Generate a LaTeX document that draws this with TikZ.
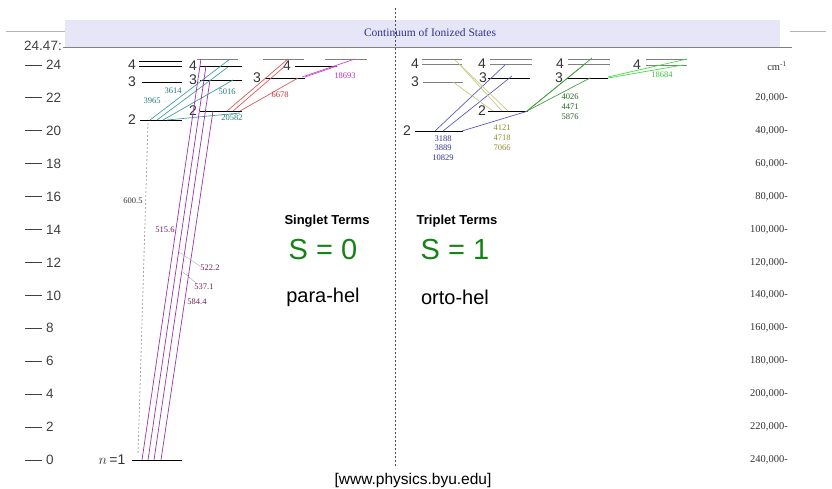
\documentclass[tikz,border=0pt]{standalone}
\usepackage{fontspec}
\setmainfont{Liberation Sans}
\newfontfamily\timesfont{Liberation Serif}
\definecolor{hdrfill}{RGB}{230,230,248}
\definecolor{hdrtext}{RGB}{50,50,140}
\definecolor{tealline}{RGB}{70,160,160}
\definecolor{tealtext}{RGB}{40,120,120}
\definecolor{redline}{RGB}{220,90,90}
\definecolor{redtext}{RGB}{190,50,50}
\definecolor{magline}{RGB}{210,70,210}
\definecolor{magtext}{RGB}{180,50,180}
\definecolor{purpline}{RGB}{150,50,170}
\definecolor{purptext}{RGB}{110,30,90}
\definecolor{blueline}{RGB}{90,90,190}
\definecolor{bluetext}{RGB}{50,50,140}
\definecolor{oliveline}{RGB}{200,200,130}
\definecolor{olivetext}{RGB}{140,140,50}
\definecolor{greenline}{RGB}{70,160,70}
\definecolor{greentext}{RGB}{40,100,40}
\definecolor{limeline}{RGB}{70,220,70}
\definecolor{limetext}{RGB}{60,190,60}
\definecolor{spin}{RGB}{20,130,20}
\begin{document}
\begin{tikzpicture}
		[	x=1pt,y=-1pt,
		lvl/.style={draw=black,line width=0.9pt},
		lim/.style={draw=gray,line width=0.9pt},
		lvnum/.style={font=\fontsize{14}{14}\selectfont,text=black!80,inner sep=0pt},
		axnum/.style={font=\fontsize{13.5}{14}\selectfont,text=black!75,inner sep=0pt},
		cmnum/.style={font=\timesfont\fontsize{10.5}{11}\selectfont,text=black!80,inner sep=0pt,anchor=east},
		wl/.style={font=\timesfont\fontsize{8.5}{9}\selectfont,inner sep=0pt},
		trans/.style={line width=0.7pt},
		lead/.style={draw=gray!70,line width=0.4pt}
		]
\useasboundingbox (0,0) rectangle (832,488);
% header
\fill[hdrfill] (65,20) rectangle (780,47);
\draw[gray,line width=1pt] (63,47) -- (792,47);
\draw[gray!60,line width=0.5pt] (6,31) -- (65,31);
\draw[gray!60,line width=0.5pt] (790,31) -- (826,31);
\node[font=\timesfont\fontsize{11.5}{12}\selectfont,text=hdrtext] (cont) at (430,33){Continuum of Ionized States};
\draw[black!70,line width=0.8pt,dash pattern=on 2pt off 2pt] (395,8) -- (395,466);
\node[axnum] (lim) at (43,46){24.47:};
% eV axis
\foreach \e in {0,2,...,24}{
  \draw[black!75,line width=0.8pt] (25,460-16.46*\e) -- (42,460-16.46*\e);
  \node[axnum,anchor=west] (ev\e) at (46,460-16.46*\e){\e};
}
% cm-1 axis
\node[font=\timesfont\fontsize{10.5}{11}\selectfont,text=black!80] (cm) at (777,66){cm\textsuperscript{-1}};
\foreach \k in {1,...,12}{
  \pgfmathtruncatemacro{\v}{20*\k}
  \node[cmnum] (cm\k) at (788,65+32.9*\k){\v,000-};
}

% singlet levels
\draw[lvl] (139,61) -- (182,61);
\draw[lvl] (139,66) -- (182,66);
\draw[lvl] (142,82) -- (182,82);
\draw[lvl] (140,120) -- (182,120);
\draw[lvl] (132,460) -- (182,460);
\node[lvnum] (s4) at (132,65){4};
\node[lvnum] (s3) at (132,82){3};
\node[lvnum] (s2) at (132,120){2};
\node[lvnum] (s1) at (112,460){$n$\,=1};
\draw[lim] (197,59) -- (238,59);
\draw[lvl] (200,66) -- (242,66);
\draw[lvl] (200,80) -- (242,80);
\draw[lvl] (200,111) -- (242,111);
\node[lvnum] (p4) at (193,66){4};
\node[lvnum] (p3) at (193,80){3};
\node[lvnum] (p2) at (193,111){2};
\draw[lim] (263,59) -- (304,59);
\draw[lvl] (295,66) -- (337,66);
\draw[lvl] (265,78) -- (305,78);
\node[lvnum] (d4) at (287,66){4};
\node[lvnum] (d3) at (257,78){3};
\draw[lim] (325,59) -- (367,59);

% singlet transitions
\draw[trans,draw=tealline] (150,120) -- (230,59);
\draw[trans,draw=tealline] (157,120) -- (228,67);
\draw[trans,draw=tealline] (163,120) -- (233,80);
\draw[trans,draw=tealline] (167,120) -- (240,113);
\draw[trans,draw=redline] (227,111) -- (288,59);
\draw[trans,draw=redline] (233,111) -- (284,67);
\draw[trans,draw=redline] (240,111) -- (298,78);
\draw[trans,draw=magline] (302,77) -- (355,59);
\draw[trans,draw=magline] (305,77) -- (337,66);
\draw[trans,draw=purpline] (142,460) -- (201,59);
\draw[trans,draw=purpline] (148,460) -- (206,66);
\draw[trans,draw=purpline] (154,460) -- (210,80);
\draw[trans,draw=purpline] (161,460) -- (213,111);
\draw[gray!70,line width=0.8pt,dash pattern=on 2pt off 2pt] (148,123) -- (138,455);
\draw[lead] (179,252) -- (200,266);
\draw[lead] (183,272) -- (196,283);
\draw[lead,dotted] (163,101) -- (176,103);
\node[wl,text=tealtext] (w3614) at (173,91){3614};
\node[wl,text=tealtext] (w3965) at (152,101){3965};
\node[wl,text=tealtext] (w5016) at (227,92){5016};
\node[wl,text=tealtext] (w20582) at (232,118){20582};
\node[wl,text=redtext] (w6678) at (280,95){6678};
\node[wl,text=magtext] (w18693) at (345,76){18693};
\node[wl,text=black!80] (w600) at (133,201){600.5};
\node[wl,text=purptext] (w515) at (165,230){515.6};
\node[wl,text=purptext] (w522) at (210,268){522.2};
\node[wl,text=purptext] (w537) at (204,287){537.1};
\node[wl,text=purptext] (w584) at (197,302){584.4};

% triplet levels
\draw[lim] (422,59) -- (462,59);
\draw[lim] (422,64) -- (462,64);
\draw[lim] (423,82) -- (463,82);
\draw[lvl] (415,131) -- (463,131);
\node[lvnum] (ts4) at (415,64){4};
\node[lvnum] (ts3) at (415,82){3};
\node[lvnum] (ts2) at (407,131){2};
\draw[lim] (490,59) -- (532,59);
\draw[lim] (490,64) -- (532,64);
\draw[lvl] (488,78) -- (530,78);
\draw[lvl] (488,111) -- (528,111);
\node[lvnum] (tp4) at (482,64){4};
\node[lvnum] (tp3) at (483,78){3};
\node[lvnum] (tp2) at (482,111){2};
\draw[lim] (568,59) -- (610,59);
\draw[lim] (568,64) -- (610,64);
\draw[lvl] (567,78) -- (608,78);
\node[lvnum] (td4) at (560,64){4};
\node[lvnum] (td3) at (559,78){3};
\draw[lim] (646,59) -- (687,59);
\draw[lim] (646,65) -- (687,65);
\node[lvnum] (tf4) at (637,65){4};

% triplet transitions
\draw[trans,draw=blueline] (435,131) -- (505,65);
\draw[trans,draw=blueline] (443,131) -- (512,76);
\draw[trans,draw=blueline] (462,131) -- (528,111);
\draw[trans,draw=oliveline] (455,60) -- (508,111);
\draw[trans,draw=oliveline] (460,65) -- (502,111);
\draw[trans,draw=oliveline] (453,82) -- (493,111);
\draw[trans,draw=greenline] (527,111) -- (592,58);
\draw[trans,draw=greenline] (527,111) -- (585,64);
\draw[trans,draw=greenline] (527,111) -- (590,78);
\draw[trans,draw=limeline] (608,77) -- (687,59);
\draw[trans,draw=limeline] (608,78) -- (683,65);
\node[wl,text=bluetext] (w3188) at (443,139){3188};
\node[wl,text=bluetext] (w3889) at (443,148){3889};
\node[wl,text=bluetext] (w10829) at (443,158){10829};
\node[wl,text=olivetext] (w4121) at (502,128){4121};
\node[wl,text=olivetext] (w4718) at (502,138){4718};
\node[wl,text=olivetext] (w7066) at (502,148){7066};
\node[wl,text=greentext] (w4026) at (570,97){4026};
\node[wl,text=greentext] (w4471) at (570,107){4471};
\node[wl,text=greentext] (w5876) at (570,117){5876};
\node[wl,text=limetext] (w18684) at (662,75){18684};

% spin labels
\node[font=\bfseries\fontsize{13}{13}\selectfont] (sing) at (327,221){Singlet Terms};
\node[font=\bfseries\fontsize{13}{13}\selectfont] (trip) at (457,221){Triplet Terms};
\node[font=\fontsize{29}{29}\selectfont,text=spin] (szero) at (323,250){S = 0};
\node[font=\fontsize{29}{29}\selectfont,text=spin] (sone) at (455,250){S = 1};
\node[font=\fontsize{20}{20}\selectfont] (para) at (323,297){para-hel};
\node[font=\fontsize{20}{20}\selectfont] (orto) at (455,297){orto-hel};
\node[font=\fontsize{15.5}{16}\selectfont] (src) at (413,480){[www.physics.byu.edu]};
	\end{tikzpicture}
\end{document}
